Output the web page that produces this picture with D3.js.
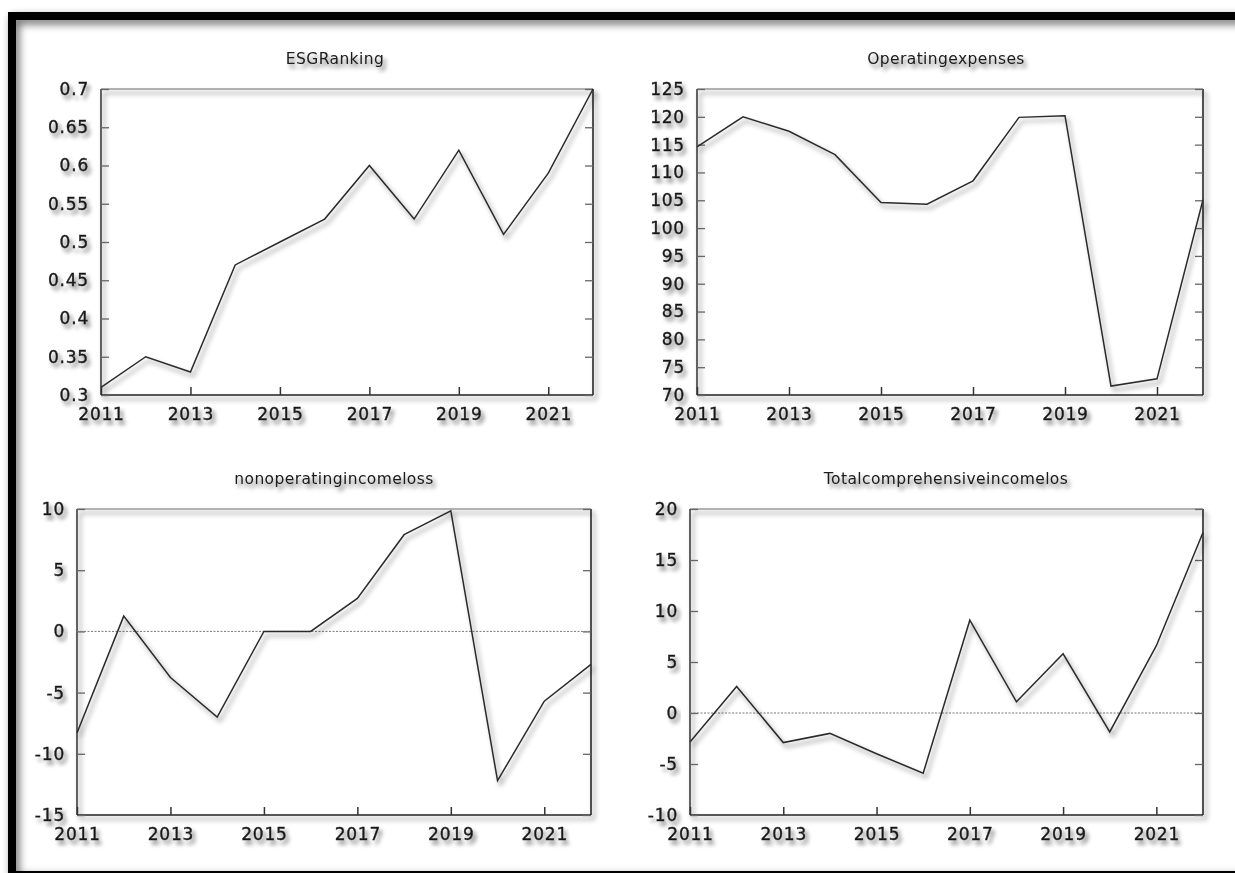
<!DOCTYPE html>
<html>
<head>
<meta charset="utf-8">
<script src="https://cdn.jsdelivr.net/npm/d3@7"></script>
<style>
  html, body { margin: 0; padding: 0; background: #fff; }
  svg { display: block; }
  text { font-family: "DejaVu Sans", Verdana, sans-serif; fill: #1a1a1a; }
</style>
</head>
<body>
<svg id="chart" width="1235" height="873"></svg>
<script>
// ---- data ----
const years = [2011, 2012, 2013, 2014, 2015, 2016, 2017, 2018, 2019, 2020, 2021, 2022];
const xTickYears = [2011, 2013, 2015, 2017, 2019, 2021];

const titles = ["ESGRanking", "Operatingexpenses", "nonoperatingincomeloss", "Totalcomprehensiveincomelos"];

const esgRanking = [0.31, 0.35, 0.33, 0.47, 0.50, 0.53, 0.60, 0.53, 0.62, 0.51, 0.59, 0.70];
const operatingExpenses = [114.6, 120.0, 117.4, 113.2, 104.6, 104.3, 108.5, 119.9, 120.2, 71.6, 72.9, 105.1];
const nonoperatingIncomeLoss = [-8.3, 1.25, -3.77, -7.0, 0, 0, 2.7, 7.9, 9.85, -12.2, -5.7, -2.7];
const totalComprehensiveIncome = [-2.85, 2.6, -2.9, -2.0, -4.0, -5.9, 9.1, 1.1, 5.8, -1.86, 6.6, 17.7];

const esgTicks = [0.3, 0.35, 0.4, 0.45, 0.5, 0.55, 0.6, 0.65, 0.7];
const opexTicks = [70, 75, 80, 85, 90, 95, 100, 105, 110, 115, 120, 125];
const nonopTicks = [-15, -10, -5, 0, 5, 10];
const tciTicks = [-10, -5, 0, 5, 10, 15, 20];

// ---- layout ----
const panels = [
  { title: titles[0], values: esgRanking, ticks: esgTicks, box: [101, 89, 593, 395], tx: 335, zero: false },
  { title: titles[1], values: operatingExpenses, ticks: opexTicks, box: [697, 89, 1203, 395], tx: 946, zero: false },
  { title: titles[2], values: nonoperatingIncomeLoss, ticks: nonopTicks, box: [77, 509, 591, 815], tx: 334, zero: true },
  { title: titles[3], values: totalComprehensiveIncome, ticks: tciTicks, box: [690, 509, 1203, 815], tx: 946, zero: true }
];

const svg = d3.select("#chart");
const defs = svg.append("defs");

function shadow(id, dx, dy, sd, op) {
  const f = defs.append("filter").attr("id", id)
    .attr("x", "-20%").attr("y", "-20%").attr("width", "140%").attr("height", "160%");
  f.append("feGaussianBlur").attr("in", "SourceAlpha").attr("stdDeviation", sd).attr("result", "b");
  f.append("feOffset").attr("in", "b").attr("dx", dx).attr("dy", dy).attr("result", "o");
  f.append("feComponentTransfer").attr("in", "o").attr("result", "s")
    .append("feFuncA").attr("type", "linear").attr("slope", op);
  const m = f.append("feMerge");
  m.append("feMergeNode").attr("in", "s");
  m.append("feMergeNode").attr("in", "SourceGraphic");
}
shadow("sh", 3, 4, 2.4, 0.5);
shadow("shText", 3, 4, 2, 0.55);
shadow("shBorder", 3, 4, 4, 0.6);

// page border
svg.append("rect")
  .attr("x", 12).attr("y", 16).attr("width", 1300).attr("height", 859)
  .attr("fill", "none").attr("stroke", "#000").attr("stroke-width", 8)
  .attr("filter", "url(#shBorder)");

panels.forEach(p => {
  const [x0, y0, x1, y1] = p.box;
  const x = d3.scaleLinear().domain([2011, 2022]).range([x0, x1]);
  const y = d3.scaleLinear().domain(d3.extent(p.ticks)).range([y1, y0]);
  const g = svg.append("g");

  // title
  g.append("text")
    .attr("x", p.tx).attr("y", 64 + (y0 - 89))
    .attr("text-anchor", "middle")
    .attr("font-size", 15.5)
    .attr("letter-spacing", 0.4)
    .attr("filter", "url(#shText)")
    .text(p.title);

  // frame
  const frame = g.append("g").attr("filter", "url(#sh)");
  frame.append("line").attr("x1", x0).attr("x2", x1).attr("y1", y0).attr("y2", y0)
    .attr("stroke", "#9a9a9a").attr("stroke-width", 1.5);
  frame.append("line").attr("x1", x1).attr("x2", x1).attr("y1", y0).attr("y2", y1)
    .attr("stroke", "#1a1a1a").attr("stroke-width", 1.5);
  frame.append("line").attr("x1", x0).attr("x2", x0).attr("y1", y0).attr("y2", y1)
    .attr("stroke", "#333").attr("stroke-width", 1.5);
  frame.append("line").attr("x1", x0).attr("x2", x1).attr("y1", y1).attr("y2", y1)
    .attr("stroke", "#222").attr("stroke-width", 1.5);

  // left axis (inward ticks)
  const ay = g.append("g").attr("transform", `translate(${x0},0)`)
    .call(d3.axisLeft(y).tickValues(p.ticks).tickSizeInner(-8).tickSizeOuter(0).tickPadding(12)
      .tickFormat(d => String(+d.toFixed(2))));
  ay.select(".domain").remove();
  ay.selectAll(".tick line").attr("stroke", "#666").attr("stroke-width", 1.3);
  ay.selectAll(".tick text").attr("font-size", 17).attr("fill", "#1a1a1a")
    .attr("stroke", "#1a1a1a").attr("stroke-width", 0.35)
    .attr("letter-spacing", 0.8)
    .attr("font-family", "DejaVu Sans, Verdana, sans-serif")
    .attr("filter", "url(#shText)");

  // right axis inward ticks
  const ayr = g.append("g").attr("transform", `translate(${x1},0)`)
    .call(d3.axisRight(y).tickValues(p.ticks).tickSizeInner(-8).tickSizeOuter(0).tickFormat(""));
  ayr.select(".domain").remove();
  ayr.selectAll(".tick line").attr("stroke", "#666").attr("stroke-width", 1.3);

  // bottom axis inward ticks
  const ax = g.append("g").attr("transform", `translate(0,${y1})`)
    .call(d3.axisBottom(x).tickValues(xTickYears).tickSizeInner(-8).tickSizeOuter(0).tickPadding(13)
      .tickFormat(d3.format("d")));
  ax.select(".domain").remove();
  ax.selectAll(".tick line").attr("stroke", "#333").attr("stroke-width", 1.5);
  ax.selectAll(".tick text").attr("font-size", 17).attr("fill", "#1a1a1a")
    .attr("stroke", "#1a1a1a").attr("stroke-width", 0.35)
    .attr("letter-spacing", 0.8)
    .attr("font-family", "DejaVu Sans, Verdana, sans-serif")
    .attr("filter", "url(#shText)");

  // zero line
  if (p.zero) {
    g.append("line")
      .attr("x1", x0).attr("x2", x1).attr("y1", y(0)).attr("y2", y(0))
      .attr("stroke", "#777").attr("stroke-width", 1).attr("stroke-dasharray", "2,1.5");
  }

  // series
  const line = d3.line().x((d, i) => x(years[i])).y(d => y(d));
  g.append("path").datum(p.values)
    .attr("d", line)
    .attr("fill", "none").attr("stroke", "#2b2b2b").attr("stroke-width", 1.5)
    .attr("stroke-linejoin", "miter")
    .attr("filter", "url(#sh)");
});
</script>
</body>
</html>
